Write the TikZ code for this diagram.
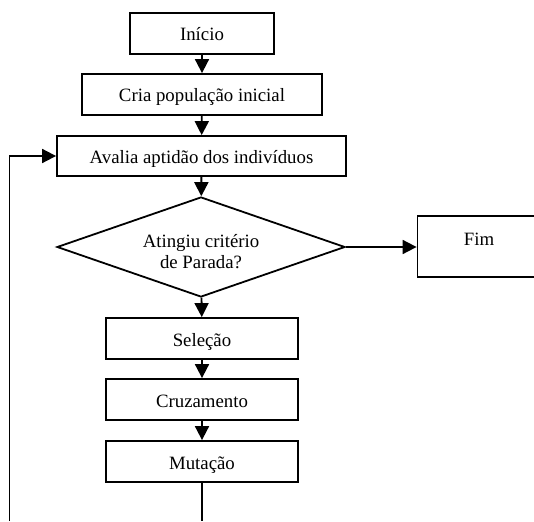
\documentclass[tikz,border=0pt]{standalone}
\usepackage{fontspec}
\setmainfont{Liberation Serif}
\usetikzlibrary{shapes.geometric,arrows.meta}
\begin{document}
\begin{tikzpicture}[x=1pt,y=-1pt,
  every node/.style={font=\fontsize{18.8}{21}\selectfont},
  box/.style={draw,line width=1.8pt,inner sep=0pt,text height=16pt,text depth=1pt},
  dec/.style={draw,diamond,shape aspect=2.88,line width=1.8pt,inner sep=0pt,align=center,
    minimum width=288pt,minimum height=100pt,text height=43pt,text depth=0pt},
  arr/.style={line width=1.8pt,-{Triangle[length=14pt,width=14pt]}},
  ln/.style={line width=1.8pt}]
\useasboundingbox (0,0) rectangle (534,521);
\clip (0,0) rectangle (534,521);
\node[box,minimum width=144pt,minimum height=41pt] (ini) at (202,33.5) {Início};
\node[box,minimum width=240pt,minimum height=41pt] (cria) at (202,94.5) {Cria população inicial};
\node[box,minimum width=289pt,minimum height=40pt] (aval) at (201.5,156) {Avalia aptidão dos indivíduos};
\node[dec] (crit) at (201,247) {Atingiu critério\\de Parada?};
\node[box,minimum width=123pt,minimum height=61pt,text depth=18pt] (fim) at (479,246.5) {Fim};
\node[box,minimum width=192.5pt,minimum height=41pt] (sel) at (202,338.5) {Seleção};
\node[box,minimum width=192.5pt,minimum height=41pt] (cruz) at (202,399.5) {Cruzamento};
\node[box,minimum width=192.5pt,minimum height=41pt] (mut) at (202,461.5) {Mutação};
\coordinate (lb) at (9.5,521);
\draw[arr] (ini) -- (cria);
\draw[arr] (cria) -- (aval);
\draw[arr] (aval) -- (crit);
\draw[arr] (crit.east) -- (crit.east -| fim.west);
\draw[arr] (crit) -- (sel);
\draw[arr] (sel) -- (cruz);
\draw[arr] (cruz) -- (mut);
\draw[ln] (mut.south) -- (mut.south |- lb);
\draw[arr] (lb) |- (aval.west);
\end{tikzpicture}
\end{document}
